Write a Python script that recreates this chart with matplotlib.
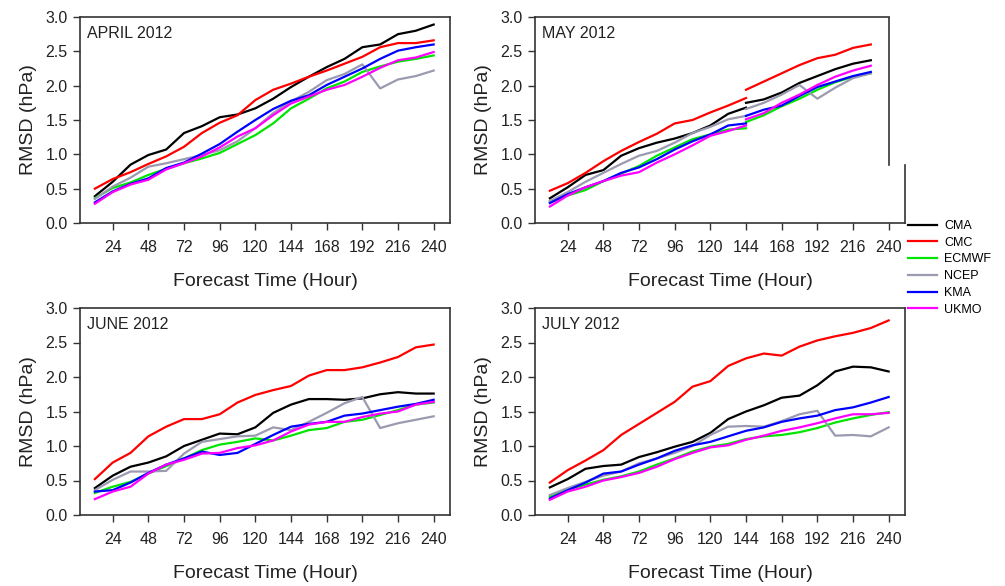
import matplotlib
matplotlib.use('Agg')
import matplotlib.pyplot as plt

plt.rcParams['font.family'] = ['Liberation Sans', 'DejaVu Sans']

models = ['CMA', 'CMC', 'ECMWF', 'NCEP', 'KMA', 'UKMO']
colors = ['#000000', '#ff0000', '#00e600', '#9a9ab0', '#0000ff', '#ff00ff']

hours = list(range(12, 241, 12))
# May: two pieces, 144 h appears twice (break in the curves)
may_hours = list(range(12, 145, 12)) + list(range(144, 229, 12))
may_split = 12

april_cma = [0.39, 0.60, 0.85, 0.99, 1.07, 1.31, 1.41, 1.54, 1.58, 1.67, 1.81, 1.98, 2.13, 2.27, 2.39, 2.56, 2.60, 2.75, 2.80, 2.89]
april_cmc = [0.50, 0.64, 0.74, 0.86, 0.97, 1.11, 1.31, 1.46, 1.57, 1.79, 1.94, 2.03, 2.13, 2.22, 2.32, 2.42, 2.56, 2.62, 2.62, 2.66]
april_ecmwf = [0.36, 0.51, 0.59, 0.70, 0.79, 0.87, 0.94, 1.02, 1.15, 1.28, 1.45, 1.67, 1.81, 1.96, 2.06, 2.20, 2.28, 2.35, 2.39, 2.44]
april_ncep = [0.35, 0.53, 0.66, 0.82, 0.87, 0.93, 0.99, 1.06, 1.19, 1.38, 1.60, 1.77, 1.91, 2.08, 2.17, 2.31, 1.96, 2.09, 2.14, 2.22]
april_kma = [0.30, 0.46, 0.57, 0.65, 0.80, 0.88, 1.01, 1.15, 1.33, 1.50, 1.66, 1.78, 1.86, 2.01, 2.13, 2.25, 2.39, 2.51, 2.56, 2.60]
april_ukmo = [0.28, 0.45, 0.56, 0.63, 0.78, 0.87, 0.97, 1.10, 1.26, 1.38, 1.57, 1.74, 1.84, 1.94, 2.01, 2.13, 2.26, 2.37, 2.41, 2.49]

may_cma = [0.36, 0.52, 0.70, 0.77, 0.98, 1.09, 1.17, 1.23, 1.31, 1.42, 1.59, 1.68, 1.75, 1.80, 1.90, 2.04, 2.14, 2.24, 2.32, 2.37]
may_cmc = [0.47, 0.58, 0.73, 0.90, 1.05, 1.18, 1.30, 1.45, 1.50, 1.61, 1.71, 1.82, 1.94, 2.06, 2.18, 2.30, 2.40, 2.45, 2.55, 2.60]
may_ecmwf = [0.31, 0.40, 0.48, 0.61, 0.72, 0.83, 0.98, 1.10, 1.22, 1.29, 1.36, 1.38, 1.47, 1.57, 1.70, 1.81, 1.94, 2.05, 2.13, 2.18]
may_ncep = [0.32, 0.45, 0.60, 0.73, 0.86, 0.98, 1.05, 1.17, 1.31, 1.40, 1.51, 1.56, 1.66, 1.75, 1.87, 2.01, 1.81, 1.97, 2.11, 2.18]
may_kma = [0.29, 0.42, 0.52, 0.61, 0.73, 0.81, 0.93, 1.07, 1.19, 1.29, 1.42, 1.45, 1.56, 1.65, 1.71, 1.85, 1.98, 2.06, 2.14, 2.20]
may_ukmo = [0.24, 0.40, 0.52, 0.61, 0.69, 0.74, 0.88, 1.00, 1.13, 1.27, 1.34, 1.42, 1.51, 1.60, 1.75, 1.87, 2.01, 2.13, 2.22, 2.29]

june_cma = [0.39, 0.57, 0.70, 0.76, 0.85, 1.00, 1.09, 1.18, 1.17, 1.27, 1.48, 1.60, 1.68, 1.68, 1.67, 1.69, 1.75, 1.78, 1.76, 1.76]
june_cmc = [0.52, 0.76, 0.90, 1.14, 1.28, 1.39, 1.39, 1.46, 1.63, 1.74, 1.81, 1.87, 2.02, 2.10, 2.10, 2.14, 2.21, 2.29, 2.43, 2.47]
june_ecmwf = [0.32, 0.41, 0.48, 0.60, 0.71, 0.82, 0.94, 1.02, 1.06, 1.11, 1.08, 1.15, 1.23, 1.26, 1.35, 1.38, 1.45, 1.52, 1.60, 1.63]
june_ncep = [0.36, 0.51, 0.63, 0.63, 0.64, 0.89, 1.06, 1.10, 1.14, 1.15, 1.27, 1.23, 1.35, 1.48, 1.62, 1.71, 1.26, 1.33, 1.38, 1.43]
june_kma = [0.34, 0.36, 0.47, 0.61, 0.73, 0.82, 0.92, 0.87, 0.90, 1.03, 1.16, 1.28, 1.32, 1.35, 1.44, 1.47, 1.52, 1.57, 1.61, 1.67]
june_ukmo = [0.23, 0.34, 0.41, 0.60, 0.73, 0.80, 0.89, 0.90, 0.97, 1.01, 1.08, 1.21, 1.31, 1.35, 1.35, 1.42, 1.47, 1.50, 1.60, 1.64]

july_cma = [0.40, 0.52, 0.67, 0.71, 0.73, 0.84, 0.91, 0.99, 1.06, 1.19, 1.39, 1.50, 1.59, 1.70, 1.73, 1.88, 2.08, 2.15, 2.14, 2.08]
july_cmc = [0.47, 0.65, 0.79, 0.94, 1.16, 1.32, 1.48, 1.64, 1.86, 1.94, 2.16, 2.27, 2.34, 2.31, 2.44, 2.53, 2.59, 2.64, 2.71, 2.82]
july_ecmwf = [0.27, 0.37, 0.44, 0.51, 0.56, 0.63, 0.73, 0.82, 0.92, 0.99, 1.03, 1.10, 1.14, 1.16, 1.20, 1.26, 1.34, 1.40, 1.45, 1.49]
july_ncep = [0.29, 0.39, 0.48, 0.57, 0.63, 0.75, 0.82, 0.90, 1.00, 1.16, 1.28, 1.29, 1.28, 1.36, 1.46, 1.51, 1.15, 1.16, 1.14, 1.27]
july_kma = [0.24, 0.36, 0.47, 0.60, 0.63, 0.73, 0.82, 0.93, 1.01, 1.06, 1.14, 1.22, 1.27, 1.35, 1.40, 1.44, 1.52, 1.56, 1.63, 1.71]
july_ukmo = [0.22, 0.34, 0.41, 0.50, 0.55, 0.61, 0.70, 0.81, 0.90, 0.98, 1.01, 1.09, 1.15, 1.22, 1.27, 1.33, 1.40, 1.46, 1.46, 1.48]

panels = [
    ('APRIL 2012', hours, [april_cma, april_cmc, april_ecmwf, april_ncep, april_kma, april_ukmo]),
    ('MAY 2012', may_hours, [may_cma, may_cmc, may_ecmwf, may_ncep, may_kma, may_ukmo]),
    ('JUNE 2012', hours, [june_cma, june_cmc, june_ecmwf, june_ncep, june_kma, june_ukmo]),
    ('JULY 2012', hours, [july_cma, july_cmc, july_ecmwf, july_ncep, july_kma, july_ukmo]),
]

W, H = 1005, 586
fig = plt.figure(figsize=(W / 100, H / 100), dpi=100)
# axes boxes in pixels: left, top, width, height
boxes = [(80, 17, 370, 206), (535, 17, 370, 206), (80, 308, 370, 207), (535, 308, 370, 207)]

spine_col = '#333333'
handles = []
for k, (title, xs, series) in enumerate(panels):
    l, t, w, h = boxes[k]
    ax = fig.add_axes([l / W, 1 - (t + h) / H, w / W, h / H])
    for i, ys in enumerate(series):
        if title.startswith('MAY'):
            ax.plot(xs[:may_split], ys[:may_split], color=colors[i], lw=1.6)
            ln, = ax.plot(xs[may_split:], ys[may_split:], color=colors[i], lw=1.6)
        else:
            ln, = ax.plot(xs, ys, color=colors[i], lw=1.6)
        if k == 0:
            handles.append(ln)
    ax.set_xlim(2, 251)
    ax.set_ylim(0, 3.0)
    ax.set_xticks(range(24, 241, 24))
    ax.set_yticks([0, 0.5, 1.0, 1.5, 2.0, 2.5, 3.0])
    ax.set_yticklabels(['%.1f' % v for v in [0, 0.5, 1.0, 1.5, 2.0, 2.5, 3.0]])
    ax.tick_params(direction='out', length=5, width=1, colors=spine_col, labelsize=11.5, labelcolor='#222222')
    ax.tick_params(axis='x', pad=7)
    ax.tick_params(axis='y', pad=4)
    for s in ax.spines.values():
        s.set_color(spine_col)
        s.set_linewidth(1.2)
    ax.set_xlabel('Forecast Time (Hour)', fontsize=14, labelpad=13, color='#222222')
    ax.set_ylabel('RMSD (hPa)', fontsize=14, labelpad=6, color='#222222')
    ax.text(0.02, 0.92, title, transform=ax.transAxes, fontsize=11.5, va='center', ha='left', color='#222222')
    if title.startswith('MAY'):
        # broken frame on the right side of the May panel
        ax.spines['right'].set_visible(False)
        ax.spines['top'].set_bounds(2, 240)
        ax.axvline(240, ymin=0.28, ymax=1, color=spine_col, lw=1.2)
        ax.plot([1, 1], [0, 0.28], transform=ax.transAxes, color=spine_col, lw=1.2, clip_on=False)

fig.legend(handles, models, loc='upper left', bbox_to_anchor=(908 / W, 1 - 220 / H),
           frameon=False, fontsize=9, handlelength=2.3, handletextpad=0.6,
           labelspacing=0.38, borderaxespad=0, borderpad=0)

fig.savefig('out.png', dpi=100, facecolor='white')
